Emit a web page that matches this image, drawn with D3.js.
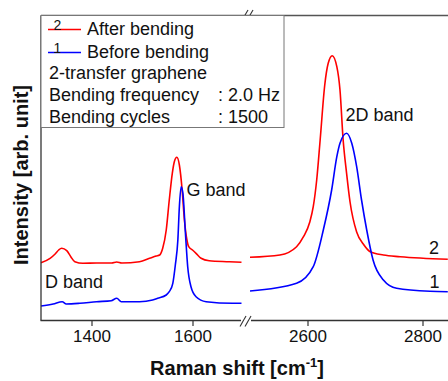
<!DOCTYPE html>
<html><head><meta charset="utf-8">
<script src="https://cdn.jsdelivr.net/npm/d3@7"></script>
<style>body{margin:0;background:#fff}svg{display:block;font-family:"Liberation Sans",Arial,sans-serif}</style>
</head><body><svg id="c" width="448" height="381"></svg>
<script>
// Raman spectra, [wavenumber cm^-1, intensity arb.]
const afterLow = [[1300,57.3],[1318,61.7],[1328,66],[1335,70],[1341,71.7],[1351,69.3],[1359,63.3],[1367,58.3],[1383,56.7],[1410,57],[1440,57],[1450,58],[1460,57],[1495,58.3],[1515,61.7],[1528,64],[1535,65],[1541,71.7],[1548,90],[1554,120],[1560,146.7],[1564,158.3],[1569,162.7],[1574,155],[1579.5,130],[1584,100],[1589,80],[1592.5,73.3],[1600,70],[1607,66.7],[1617,61.7],[1633,59.3],[1673,58.3],[1697,57.7]];
const beforeLow = [[1300,14],[1324,16],[1342,18.3],[1350,16],[1377,16.7],[1410,18.3],[1439,19.3],[1450,21.7],[1459,18.3],[1495,18.3],[1521,20],[1531,21.7],[1548,25],[1554,28.3],[1561,36.7],[1566,55],[1571,80],[1574,113.3],[1577.5,133.3],[1581,126.7],[1586,86.7],[1590.5,53.3],[1597,33.3],[1607,23.3],[1627,18.3],[1679,16.7],[1697,16.7]];
const afterHigh = [[2500,62.7],[2552,65],[2581,73.3],[2593,83.3],[2604,98],[2610,113.3],[2616,140],[2622,180],[2630,235],[2636,256.7],[2643,264.3],[2651,253.3],[2656.5,230],[2662,180],[2668,146.7],[2674,118],[2685.5,88],[2697,76],[2709,68.3],[2732,65],[2761,63.3],[2844,60.7]];
const beforeHigh = [[2500,29],[2581,36.7],[2610,53.3],[2627.5,90],[2642,130],[2651,163.3],[2656.5,176.7],[2668,186.7],[2677,176.7],[2685.5,153.3],[2694,120],[2703,90],[2714,60],[2732,40],[2755,31.7],[2813,28.7],[2844,28.3]];
const ticksLow = [1400, 1600];
const ticksHigh = [2600, 2800];
const legendRows = ["2-transfer graphene", "Bending frequency", "Bending cycles"];
const legendValues = ["", ": 2.0 Hz", ": 1500"];

const svg = d3.select("#c");
const xLow = d3.scaleLinear([1300, 1700], [41, 243]);
const xHigh = d3.scaleLinear([2500, 2850], [250, 451.25]);
const y = d3.scaleLinear([0, 305], [320, 15]);
const axisCol = "#333";

function drawLine(data, x, color) {
  svg.append("path").datum(data)
    .attr("fill", "none").attr("stroke", color).attr("stroke-width", 1.6)
    .attr("d", d3.line().x(d => x(d[0])).y(d => y(d[1])).curve(d3.curveMonotoneX));
}
drawLine(afterLow, xLow, "#ff0000");
drawLine(beforeLow, xLow, "#0000ff");
drawLine(afterHigh, xHigh, "#ff0000");
drawLine(beforeHigh, xHigh, "#0000ff");

// axes
function tickAxis(x, vals) {
  const g = svg.append("g").attr("transform", "translate(0,320)")
    .call(d3.axisBottom(x).tickValues(vals).tickSize(6).tickPadding(4).tickFormat(d3.format("d")));
  g.select(".domain").remove();
  g.selectAll("line").attr("stroke", axisCol).attr("stroke-width", 1.2);
  g.selectAll("text").attr("font-size", 17).attr("fill", "#111")
    .attr("font-family", "Liberation Sans, Arial, sans-serif");
}
tickAxis(xLow, ticksLow);
tickAxis(xHigh, ticksHigh);

const ax = svg.append("g").attr("stroke", axisCol).attr("stroke-width", 1.3).attr("fill", "none");
ax.append("line").attr("x1", 41).attr("x2", 41).attr("y1", 15.5).attr("y2", 320.5);
ax.append("line").attr("x1", 40.5).attr("x2", 241).attr("y1", 320.5).attr("y2", 320.5);
ax.append("line").attr("x1", 251).attr("x2", 448).attr("y1", 320.5).attr("y2", 320.5);
ax.append("line").attr("x1", 41).attr("x2", 448).attr("y1", 15.5).attr("y2", 15.5).attr("stroke", "#555");
// break marks
[[240, 326.5, 246, 316], [245, 326.5, 251, 316], [243, 18.5, 248, 10], [248, 18.5, 253, 10]].forEach(s =>
  ax.append("line").attr("x1", s[0]).attr("y1", s[1]).attr("x2", s[2]).attr("y2", s[3]).attr("stroke-width", 1.1));

// legend box
const lg = svg.append("g");
lg.append("rect").attr("x", 41).attr("y", 15.5).attr("width", 243).attr("height", 112)
  .attr("fill", "#fff").attr("stroke", "#777").attr("stroke-width", 1);
[["#ff0000", "2", "After bending", 29.5], ["#0000ff", "1", "Before bending", 52.5]].forEach(r => {
  lg.append("line").attr("x1", 48).attr("x2", 81).attr("y1", r[3]).attr("y2", r[3]).attr("stroke", r[0]).attr("stroke-width", 1.5);
  lg.append("text").attr("x", 57.5).attr("y", r[3] + 0.5).attr("text-anchor", "middle").attr("font-size", 14).attr("fill", "#111").text(r[1]);
  lg.append("text").attr("x", 87).attr("y", r[3] + 5.5).attr("font-size", 18).attr("fill", "#111").text(r[2]);
});
legendRows.forEach((t, i) => {
  const yy = 79.3 + i * 22;
  lg.append("text").attr("x", 49).attr("y", yy).attr("font-size", 18).attr("fill", "#111").text(t);
  if (legendValues[i]) lg.append("text").attr("x", 218).attr("y", yy).attr("font-size", 18).attr("fill", "#111").text(legendValues[i]);
});

// annotations
const ann = [["G band", 186.5, 195.5], ["2D band", 345.5, 120.5], ["D band", 45, 287.5], ["2", 429, 253.5], ["1", 429.5, 288]];
ann.forEach(a => svg.append("text").attr("x", a[1]).attr("y", a[2]).attr("font-size", 18).attr("fill", "#111").text(a[0]));

// axis titles
svg.append("text").attr("transform", "translate(28,175) rotate(-90)").attr("text-anchor", "middle")
  .attr("font-size", 20).attr("font-weight", "bold").attr("fill", "#111").text("Intensity [arb. unit]");
const xt = svg.append("text").attr("x", 237).attr("y", 375).attr("text-anchor", "middle")
  .attr("font-size", 20).attr("font-weight", "bold").attr("fill", "#111");
xt.append("tspan").text("Raman shift [cm");
xt.append("tspan").attr("font-size", 13).attr("dy", -8).text("-1");
xt.append("tspan").attr("dy", 8).text("]");
</script></body></html>
